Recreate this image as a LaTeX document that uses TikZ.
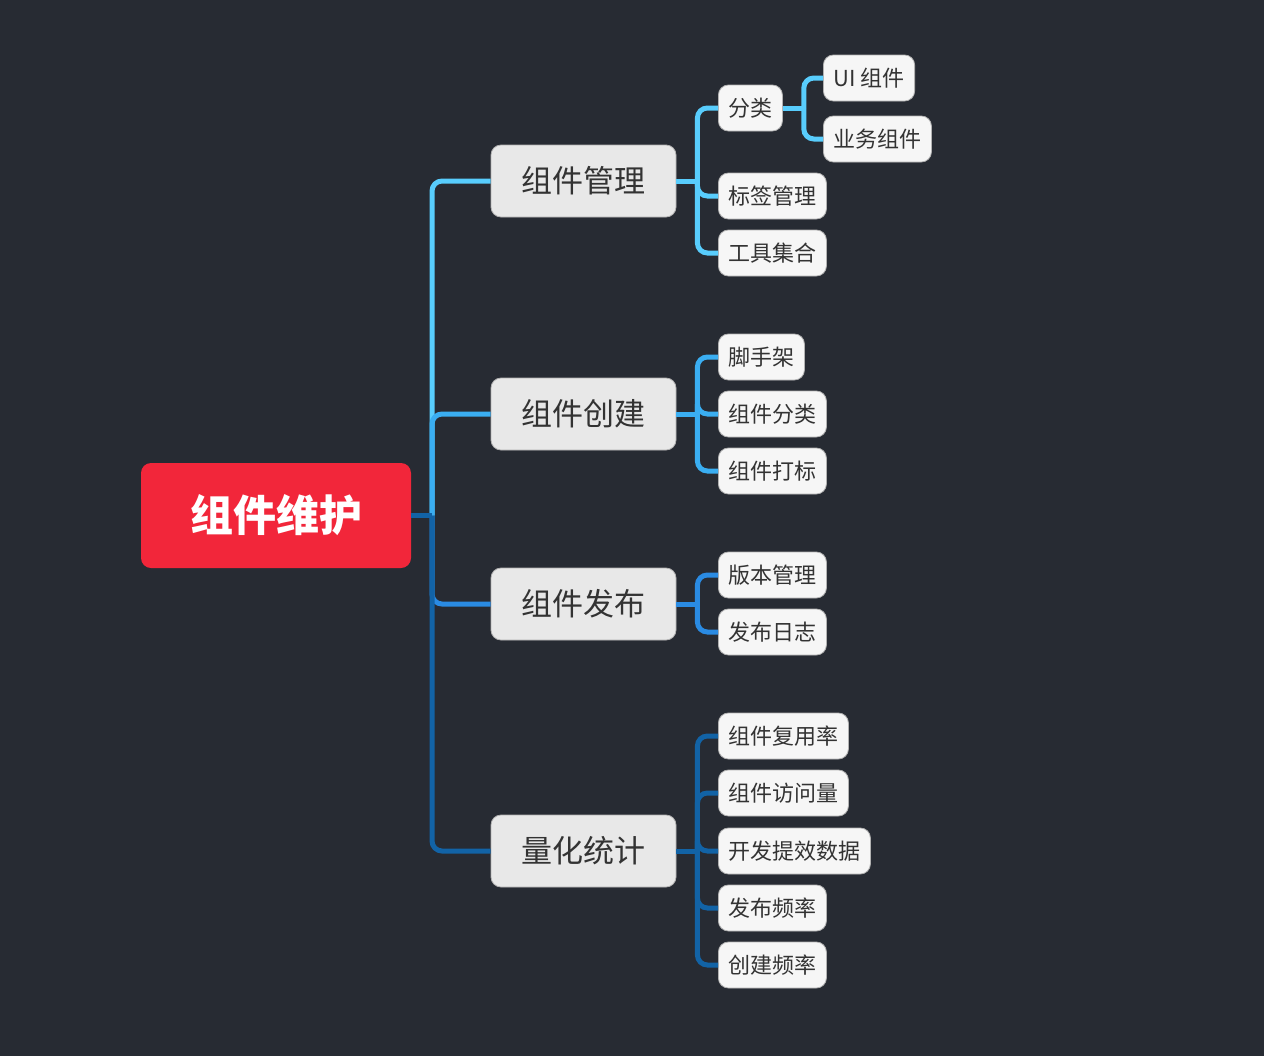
\documentclass[tikz,border=0pt]{standalone}
\usepackage{fontspec}
\setmainfont{Noto Sans CJK SC}
\usetikzlibrary{positioning}

\definecolor{bgdark}{HTML}{272B33}
\definecolor{rootred}{HTML}{F2263A}
\definecolor{mainfill}{HTML}{E8E8E8}
\definecolor{leaffill}{HTML}{F6F6F6}
\definecolor{txtgray}{HTML}{333333}
\definecolor{brA}{HTML}{58CDFD}
\definecolor{brB}{HTML}{3AAEF2}
\definecolor{brC}{HTML}{2A8BE3}
\definecolor{brD}{HTML}{1263A6}

\tikzset{
  rootbox/.style = {rectangle, rounded corners=5pt, fill=rootred, text=white,
    minimum width=135pt, minimum height=52.5pt,
    font=\fontsize{21.5pt}{24pt}\selectfont\bfseries},
  mainbox/.style = {rectangle, rounded corners=5pt, fill=mainfill, draw=black!30,
    line width=0.4pt, text=txtgray, minimum width=92.5pt, minimum height=36pt,
    font=\fontsize{15.5pt}{18pt}\selectfont},
  leafbox/.style = {rectangle, rounded corners=5pt, fill=leaffill, draw=black!30,
    line width=0.4pt, text=txtgray, inner xsep=5pt, minimum height=23pt,
    anchor=west, font=\fontsize{11pt}{13pt}\selectfont},
  branch/.style = {line width=2.5pt, rounded corners=5pt}
}

\begin{document}
\begin{tikzpicture}[x=0.5pt, y=-0.5pt]
\fill [bgdark] (0,0) rectangle (1264,1056);
\useasboundingbox (0,0) rectangle (1264,1056);

% root and main topics
\node [rootbox] (root) at (276,515.5) {组件维护};
\node [mainbox] (mgmt) at (583.5,181) {组件管理};
\node [mainbox] (create) at (583.5,414) {组件创建};
\node [mainbox] (publish) at (583.5,604) {组件发布};
\node [mainbox] (stats) at (583.5,851) {量化统计};

% leaves
\node [leafbox] (cat) at (718,108) {分类};
\node [leafbox] (ui) at (823,78) {UI 组件};
\node [leafbox] (biz) at (823,139) {业务组件};
\node [leafbox] (tag) at (718,196) {标签管理};
\node [leafbox] (tool) at (718,253) {工具集合};

\node [leafbox] (scaffold) at (718,357) {脚手架};
\node [leafbox] (sort) at (718,414) {组件分类};
\node [leafbox] (mark) at (718,471) {组件打标};

\node [leafbox] (version) at (718,575) {版本管理};
\node [leafbox] (log) at (718,632) {发布日志};

\node [leafbox] (reuse) at (718,736) {组件复用率};
\node [leafbox] (visit) at (718,793) {组件访问量};
\node [leafbox] (effic) at (718,851) {开发提效数据};
\node [leafbox] (pubfreq) at (718,908) {发布频率};
\node [leafbox] (crfreq) at (718,965) {创建频率};

% connectors
\coordinate (hub) at (432,515.5);
\draw [branch, brA] (hub) |- (mgmt.west);
\draw [branch, brA] (mgmt.east) -- ++(21,0) coordinate (hA);
\foreach \n in {cat,tag,tool}
  \draw [branch, brA] (hA) |- (\n.west);
\draw [branch, brA] (cat.east) -- ++(21,0) coordinate (hA2);
\foreach \n in {ui,biz}
  \draw [branch, brA] (hA2) |- (\n.west);

\draw [branch, brB] (hub) |- (create.west);
\draw [branch, brB] (create.east) -- ++(21,0) coordinate (hB);
\foreach \n in {scaffold,sort,mark}
  \draw [branch, brB] (hB) |- (\n.west);

\draw [branch, brC] (hub) |- (publish.west);
\draw [branch, brC] (publish.east) -- ++(21,0) coordinate (hC);
\foreach \n in {version,log}
  \draw [branch, brC] (hC) |- (\n.west);

\draw [branch, brD] (hub) |- (stats.west);
\draw [branch, brD] (root.east) -- (hub);
\draw [branch, brD] (stats.east) -- ++(21,0) coordinate (hD);
\foreach \n in {reuse,visit,effic,pubfreq,crfreq}
  \draw [branch, brD] (hD) |- (\n.west);
\end{tikzpicture}
\end{document}
